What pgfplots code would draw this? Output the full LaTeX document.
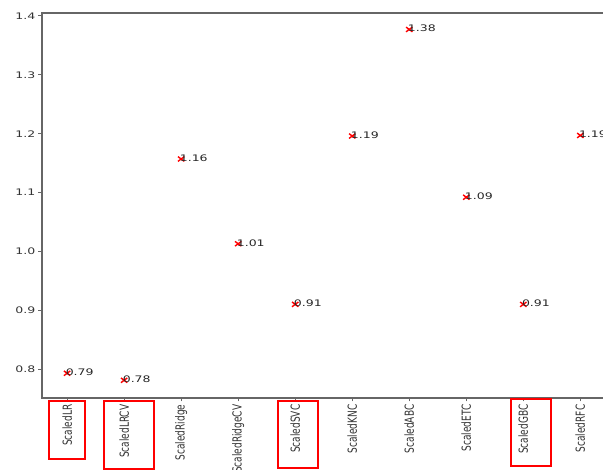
\documentclass[border=0pt]{standalone}
\usepackage{pgfplots}
\pgfplotsset{compat=1.18}
\usepackage{pgfplotstable}
\usepackage{graphicx}
\usepackage{fontspec}
\setmainfont{DejaVu Sans}
\newcommand{\sx}[1]{\scalebox{1.25}[0.9]{#1}}
\pgfplotstableread{
x y lab
0 0.793 0.79
1 0.781 0.78
2 1.157 1.16
3 1.013 1.01
4 0.910 0.91
5 1.196 1.19
6 1.377 1.38
7 1.092 1.09
8 0.910 0.91
9 1.197 1.19
}\datatable
\begin{document}
\begin{tikzpicture}
\useasboundingbox (-42pt,-72pt) rectangle (561pt,398pt);
\clip (-42pt,-72pt) rectangle (561pt,398pt);
\begin{axis}[
  at={(0pt,0pt)}, anchor=south west,
  width=564pt, height=385pt, scale only axis,
  xmin=-0.44, xmax=9.45, ymin=0.751, ymax=1.405,
  xtick={0,...,9},
  xticklabels={
    \sx{\rotatebox{90}{ScaledLR}},
    \sx{\rotatebox{90}{ScaledLRCV}},
    \sx{\rotatebox{90}{ScaledRidge}},
    \sx{\rotatebox{90}{ScaledRidgeCV}},
    \sx{\rotatebox{90}{ScaledSVC}},
    \sx{\rotatebox{90}{ScaledKNC}},
    \sx{\rotatebox{90}{ScaledABC}},
    \sx{\rotatebox{90}{ScaledETC}},
    \sx{\rotatebox{90}{ScaledGBC}},
    \sx{\rotatebox{90}{ScaledRFC}}},
  xticklabel style={anchor=north, inner sep=3pt},
  ytick={0.8,0.9,1.0,1.1,1.2,1.3,1.4},
  /pgf/number format/assume math mode=true,
  yticklabel={\sx{\pgfmathprintnumber[fixed,fixed zerofill,precision=1,assume math mode=true]{\tick}}},
  yticklabel style={inner sep=3pt},
  tick align=outside, xtick pos=left, ytick pos=left,
  major tick length=3.5pt,
  axis line style={gray!80!black, line width=1.2pt},
  tick style={gray!80!black, line width=0.9pt},
  tick label style={text=black!80, font=\fontsize{10}{12}\selectfont},
]
\addplot[only marks, mark=x, red, mark size=4.5pt, mark options={line width=1.4pt, yscale=0.75},
  point meta=explicit symbolic,
  nodes near coords={\sx{\pgfplotspointmeta}},
  nodes near coords style={anchor=west, xshift=-2pt, yshift=1pt, text=black!85, inner sep=0pt, font=\fontsize{10}{12}\selectfont}]
  table[x=x, y=y, meta=lab] {\datatable};
\end{axis}
\draw[red, line width=2.5pt] (7pt,-3pt) rectangle (43pt,-61pt);
\draw[red, line width=2.5pt] (62pt,-3pt) rectangle (112pt,-71pt);
\draw[red, line width=2.5pt] (236pt,-3pt) rectangle (276pt,-70pt);
\draw[red, line width=2.5pt] (469pt,-1pt) rectangle (509pt,-68pt);
\end{tikzpicture}
\end{document}
